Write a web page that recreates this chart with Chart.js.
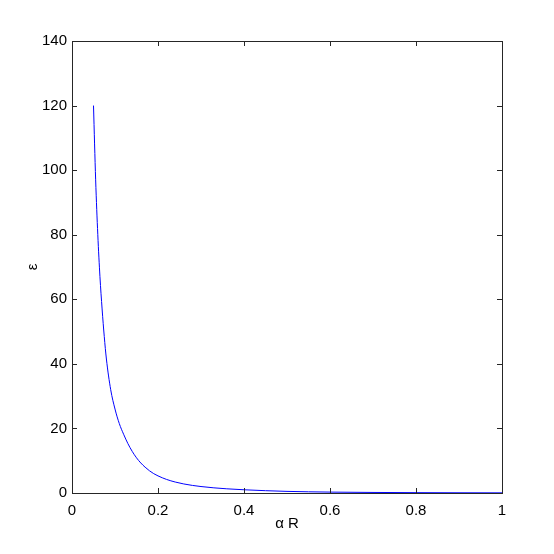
<!DOCTYPE html>
<html>
<head>
<meta charset="utf-8">
<script src="https://cdn.jsdelivr.net/npm/chart.js@4"></script>
<style>
  html, body { margin: 0; padding: 0; background: #fff; }
  #chart { display: block; }
</style>
</head>
<body>
<canvas id="chart" width="554" height="554"></canvas>
<script>
// values
const alphaR = [0.05, 0.055, 0.06, 0.065, 0.07, 0.075, 0.08, 0.09, 0.10, 0.11,
                0.12, 0.13, 0.14, 0.15, 0.16, 0.17, 0.18, 0.19, 0.20, 0.22,
                0.24, 0.26, 0.28, 0.30, 0.33, 0.36, 0.40, 0.45, 0.50, 0.55,
                0.60, 0.70, 0.80, 0.90, 1.00];
const epsilon = [120, 97, 80, 67, 57, 48.5, 41.5, 32, 26, 21.5,
                 18.2, 15.3, 12.9, 10.9, 9.3, 8.0, 6.9, 6.0, 5.3, 4.2,
                 3.4, 2.8, 2.35, 2.0, 1.6, 1.3, 1.0, 0.72, 0.5, 0.37,
                 0.28, 0.17, 0.11, 0.07, 0.05];
const xTicks = [0, 0.2, 0.4, 0.6, 0.8, 1];
const yTicks = [0, 20, 40, 60, 80, 100, 120, 140];

const FONT = "'Liberation Sans Narrow', 'Liberation Sans', Arial, sans-serif";

// MATLAB-style box with inward ticks on all four sides
const boxPlugin = {
    id: 'box',
    afterDraw(chart) {
        const { ctx, chartArea: a, scales } = chart;
        ctx.save();
        ctx.strokeStyle = '#262626';
        ctx.lineWidth = 1;
        ctx.strokeRect(Math.round(a.left) + 0.5, Math.round(a.top) + 0.5,
                       Math.round(a.right - a.left), Math.round(a.bottom - a.top));
        const len = 5;
        ctx.beginPath();
        xTicks.forEach(v => {
            const px = Math.round(scales.x.getPixelForValue(v)) + 0.5;
            ctx.moveTo(px, a.bottom); ctx.lineTo(px, a.bottom - len);
            ctx.moveTo(px, a.top); ctx.lineTo(px, a.top + len);
        });
        yTicks.forEach(v => {
            const py = Math.round(scales.y.getPixelForValue(v)) + 0.5;
            ctx.moveTo(a.left, py); ctx.lineTo(a.left + len, py);
            ctx.moveTo(a.right, py); ctx.lineTo(a.right - len, py);
        });
        ctx.stroke();
        ctx.restore();
    }
};

new Chart(document.getElementById('chart').getContext('2d'), {
    type: 'scatter',
    data: {
        datasets: [{
            data: alphaR.map((x, i) => ({ x, y: epsilon[i] })),
            showLine: true,
            borderColor: '#0000ff',
            borderWidth: 1,
            pointRadius: 0,
            cubicInterpolationMode: 'monotone'
        }]
    },
    options: {
        responsive: false,
        animation: false,
        layout: { padding: { top: 41, right: 52, left: 0, bottom: 0 } },
        plugins: { legend: { display: false }, tooltip: { enabled: false } },
        scales: {
            x: {
                type: 'linear', min: 0, max: 1,
                afterBuildTicks: s => { s.ticks = xTicks.map(value => ({ value })); },
                afterFit: s => { s.height = 61; },
                grid: { display: true, drawOnChartArea: false, drawTicks: false },
                border: { display: false },
                ticks: { color: '#000', padding: 9, font: { family: FONT, size: 15 },
                         callback: v => String(v) },
                title: { display: true, text: 'α R', color: '#000', padding: { top: 0, bottom: 21 },
                         font: { family: FONT, size: 15 } }
            },
            y: {
                type: 'linear', min: 0, max: 140,
                afterBuildTicks: s => { s.ticks = yTicks.map(value => ({ value })); },
                afterFit: s => { s.width = 72; },
                grid: { display: true, drawOnChartArea: false, drawTicks: false },
                border: { display: false },
                ticks: { color: '#000', padding: 5, font: { family: FONT, size: 15 } },
                title: { display: true, text: 'ε', color: '#000', padding: { top: 24 },
                         font: { family: FONT, size: 15 } }
            }
        }
    },
    plugins: [boxPlugin]
});
</script>
</body>
</html>
